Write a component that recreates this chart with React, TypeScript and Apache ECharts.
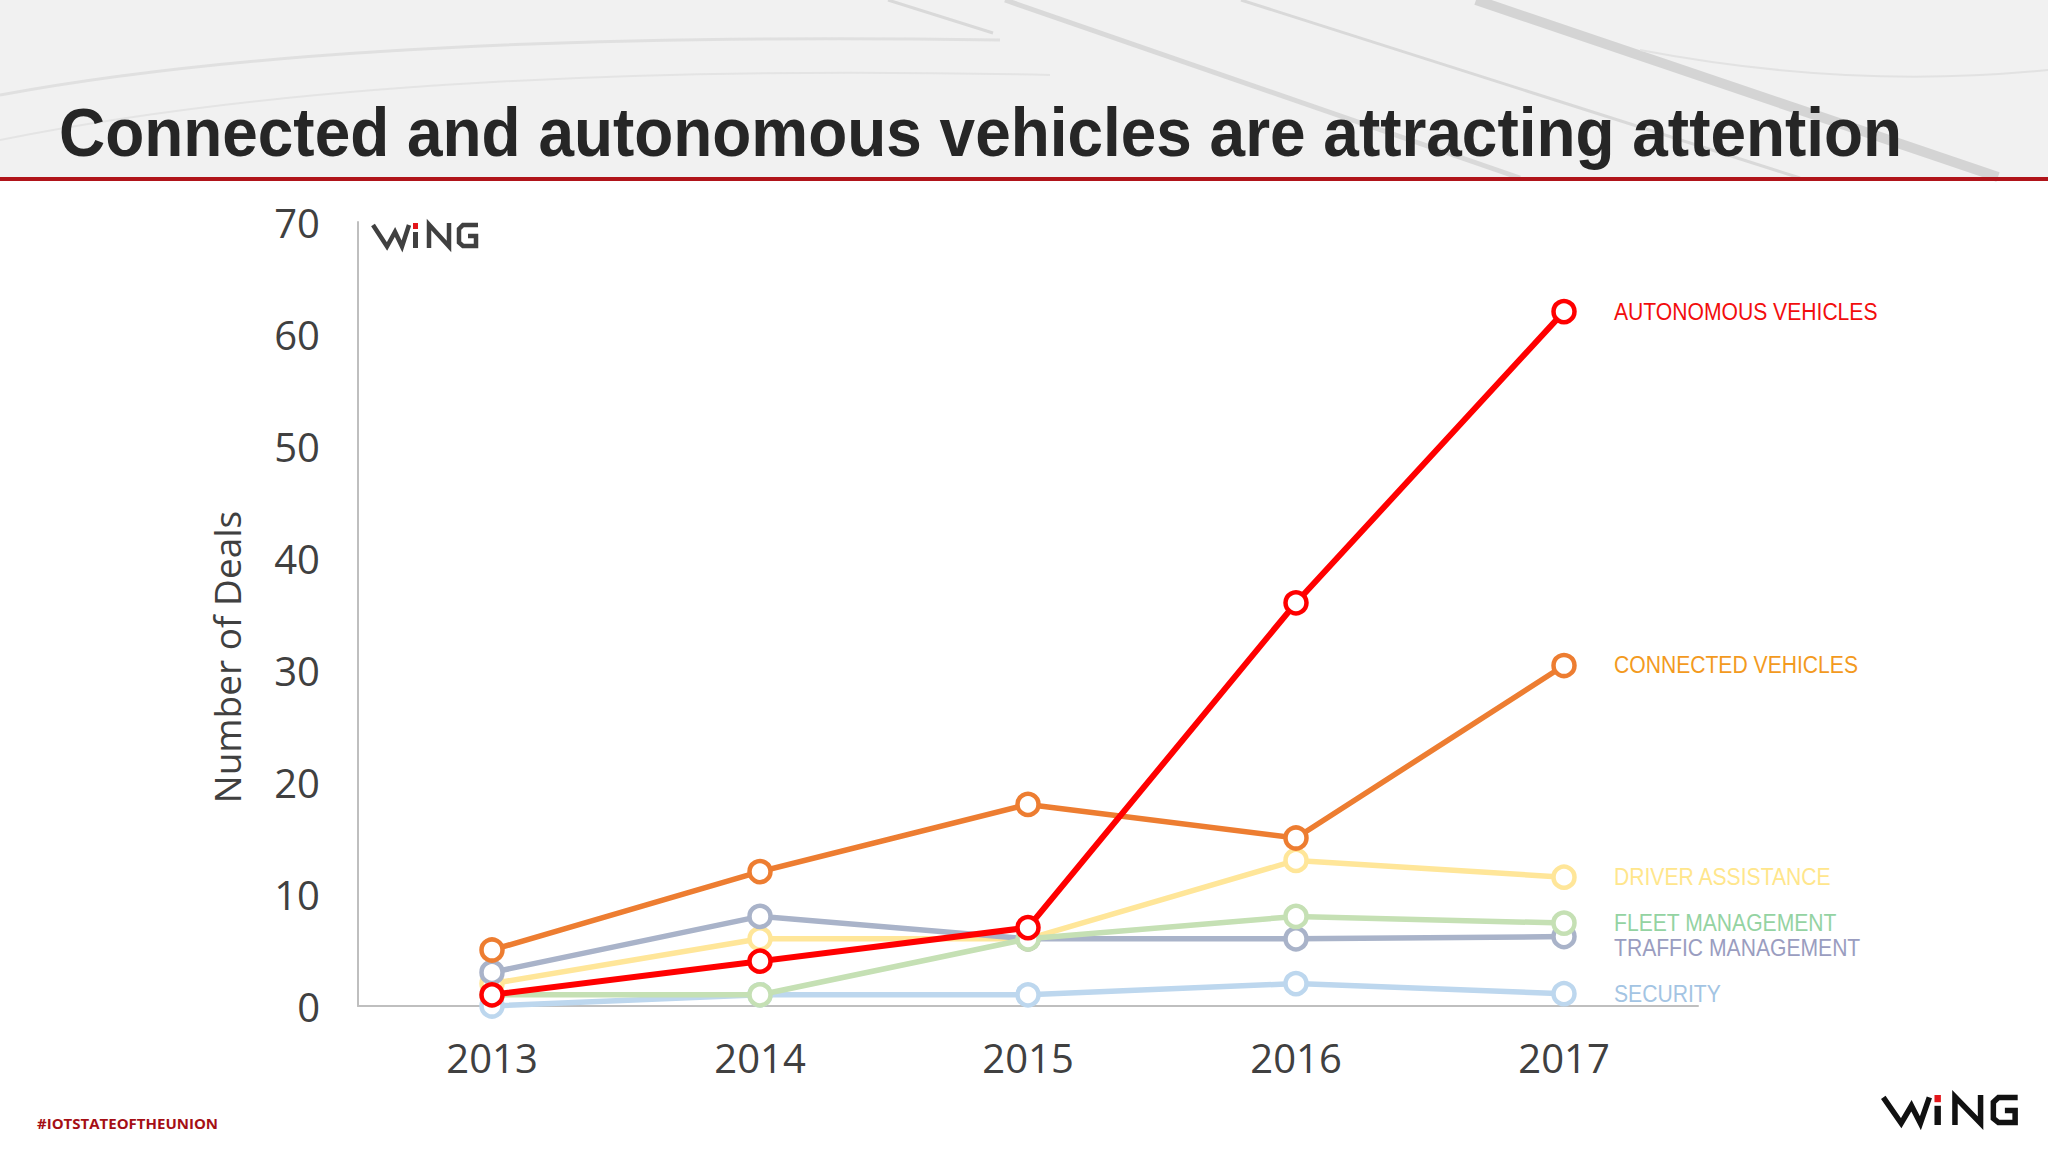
import React, { useEffect, useRef } from "react";
import * as echarts from "echarts";

const years = ["2013", "2014", "2015", "2016", "2017"];
const yTicks = { min: 0, max: 70, interval: 10 };

const autonomous = [1, 4, 7, 36, 62];
const connected = [5, 12, 18, 15, 30.4];
const driverAssistance = [2, 6, 6, 13, 11.5];
const fleetManagement = [1, 1, 6, 8, 7.4];
const trafficManagement = [3, 8, 6, 6, 6.2];
const security = [0, 1, 1, 2, 1.1];

const seriesNames = [
  "SECURITY",
  "DRIVER ASSISTANCE",
  "TRAFFIC MANAGEMENT",
  "FLEET MANAGEMENT",
  "CONNECTED VEHICLES",
  "AUTONOMOUS VEHICLES",
];

const titleText = "Connected and autonomous vehicles are attracting attention";
const yAxisTitle = "Number of Deals";
const hashtag = "#IOTSTATEOFTHEUNION";

type Def = { name: string; data: number[]; line: string; label: string; width: number; dy: number };

const defs: Def[] = [
  { name: seriesNames[0], data: security, line: "#bdd7ee", label: "#a3c4e3", width: 5.5, dy: 0 },
  { name: seriesNames[1], data: driverAssistance, line: "#ffe699", label: "#ffe68c", width: 5.5, dy: 0 },
  { name: seriesNames[2], data: trafficManagement, line: "#a9b3c9", label: "#9a9dc0", width: 5.5, dy: 11 },
  { name: seriesNames[3], data: fleetManagement, line: "#c5e0b4", label: "#94d3a2", width: 5.5, dy: 0 },
  { name: seriesNames[4], data: connected, line: "#ed7d31", label: "#f39a1e", width: 5.5, dy: 0 },
  { name: seriesNames[5], data: autonomous, line: "#ff0000", label: "#f20d0d", width: 6, dy: 0 },
];

function makeSeries(d: Def, z: number) {
  return {
    name: d.name,
    type: "line",
    z,
    symbol: "circle",
    symbolSize: 21,
    itemStyle: { color: "#ffffff", borderColor: d.line, borderWidth: 4.5 },
    lineStyle: { color: d.line, width: d.width },
    emphasis: { disabled: true },
    data: d.data,
  };
}

function logo(x0: number, y0: number, sx: number, sy: number, color: string, lw: number) {
  const p = (pts: number[][]) => pts.map(([a, b]) => [x0 + a * sx, y0 + b * sy]);
  const common = { silent: true, z: 10 };
  return [
    { type: "polyline", ...common, shape: { points: p([[1, 2], [15, 23.5], [23, 9], [30, 23.5], [37, 2]]) }, style: { stroke: color, lineWidth: lw, fill: null } },
    { type: "rect", ...common, shape: { x: x0 + 41 * sx, y: y0, width: 5 * sx, height: 6 * sy }, style: { fill: "#e3151a" } },
    { type: "rect", ...common, shape: { x: x0 + 41 * sx, y: y0 + 9 * sy, width: 5 * sx, height: 16 * sy }, style: { fill: color } },
    { type: "polyline", ...common, shape: { points: p([[57, 25], [57, 1.5], [77, 23.5], [77, 0]]) }, style: { stroke: color, lineWidth: lw, fill: null } },
    { type: "polyline", ...common, shape: { points: p([[106, 2], [91, 2], [87, 6], [87, 19.5], [91, 23], [104, 23], [104, 13], [96, 13]]) }, style: { stroke: color, lineWidth: lw, fill: null } },
  ];
}

function staticGraphic(): any[] {
  const vein = "#d9d9d9";
  return [
    { type: "rect", silent: true, z: -10, shape: { x: 0, y: 0, width: 2048, height: 178 }, style: { fill: "#f1f1f1" } },
    { type: "line", silent: true, z: -9, shape: { x1: 1476, y1: 0, x2: 1998, y2: 177 }, style: { stroke: "#d4d4d4", lineWidth: 10 } },
    { type: "line", silent: true, z: -9, shape: { x1: 1005, y1: 0, x2: 1520, y2: 178 }, style: { stroke: vein, lineWidth: 5 } },
    { type: "line", silent: true, z: -9, shape: { x1: 1241, y1: 0, x2: 1800, y2: 178 }, style: { stroke: vein, lineWidth: 3 } },
    { type: "bezierCurve", silent: true, z: -9, shape: { x1: 0, y1: 95, cpx1: 350, cpy1: 30, x2: 1000, y2: 40 }, style: { stroke: "#e0e0e0", lineWidth: 3, fill: null } },
    { type: "bezierCurve", silent: true, z: -9, shape: { x1: 0, y1: 140, cpx1: 400, cpy1: 60, x2: 1050, y2: 75 }, style: { stroke: "#e4e4e4", lineWidth: 2, fill: null } },
    { type: "line", silent: true, z: -9, shape: { x1: 888, y1: 0, x2: 993, y2: 33 }, style: { stroke: vein, lineWidth: 3 } },
    { type: "bezierCurve", silent: true, z: -9, shape: { x1: 1640, y1: 50, cpx1: 1850, cpy1: 90, x2: 2048, y2: 70 }, style: { stroke: "#e2e2e2", lineWidth: 2, fill: null } },
    { type: "rect", silent: true, z: -8, shape: { x: 0, y: 177, width: 2048, height: 4 }, style: { fill: "#b0141a" } },
    {
      type: "text",
      silent: true,
      x: 59,
      y: 132,
      scaleX: 0.94,
      style: {
        text: titleText,
        fill: "#262626",
        font: "bold 68px 'Liberation Sans', sans-serif",
        align: "left",
        verticalAlign: "middle",
      },
    },
    {
      type: "text",
      silent: true,
      x: 226,
      y: 657,
      rotation: Math.PI / 2,
      style: {
        text: yAxisTitle,
        fill: "#404040",
        font: "37px 'Open Sans', sans-serif",
        align: "center",
        verticalAlign: "middle",
      },
    },
    {
      type: "text",
      silent: true,
      x: 37,
      y: 1123,
      style: {
        text: hashtag,
        fill: "#a50f15",
        font: "bold 15px 'Open Sans', sans-serif",
        align: "left",
        verticalAlign: "middle",
      },
    },
    ...logo(372, 223, 1, 1, "#404040", 4.5),
    ...logo(1882, 1095, 1.28, 1.2, "#111111", 5.5),
  ];
}

export default function App() {
  const ref = useRef<HTMLDivElement>(null);

  useEffect(() => {
    if (!ref.current) return;
    const chart = echarts.init(ref.current, null, { renderer: "svg" });

    chart.setOption({
      animation: false,
      backgroundColor: "#ffffff",
      grid: { left: 358, right: 350, top: 222, bottom: 146, containLabel: false },
      xAxis: {
        type: "category",
        data: years,
        boundaryGap: true,
        axisLine: { show: true, lineStyle: { color: "#bfbfbf", width: 2 } },
        axisTick: { show: false },
        axisLabel: { color: "#404040", fontSize: 40, margin: 31, fontFamily: "'Open Sans', sans-serif" },
        splitLine: { show: false },
      },
      yAxis: {
        type: "value",
        min: yTicks.min,
        max: yTicks.max,
        interval: yTicks.interval,
        axisLine: { show: true, lineStyle: { color: "#bfbfbf", width: 2 } },
        axisTick: { show: false },
        axisLabel: { color: "#404040", fontSize: 40, margin: 38, fontFamily: "'Open Sans', sans-serif" },
        splitLine: { show: false },
      },
      graphic: staticGraphic(),
      series: defs.map((d, i) => makeSeries(d, 2 + i)),
    });

    // Series name labels placed next to the last point, located through the chart's own scales.
    const last = years.length - 1;
    const labels = defs.map((d) => {
      const [px, py] = chart.convertToPixel({ gridIndex: 0 }, [years[last], d.data[last]]) as number[];
      return {
        type: "text",
        silent: true,
        z: 20,
        x: px + 50,
        y: py + d.dy,
        scaleX: 0.88,
        style: {
          text: d.name,
          fill: d.label,
          font: "24px 'Liberation Sans', sans-serif",
          align: "left",
          verticalAlign: "middle",
        },
      };
    });
    chart.setOption({ graphic: [...staticGraphic(), ...labels] });

    return () => chart.dispose();
  }, []);

  return (
    <div
      ref={ref}
      style={{ position: "fixed", left: 0, top: 0, width: 2048, height: 1152, background: "#ffffff" }}
    />
  );
}
